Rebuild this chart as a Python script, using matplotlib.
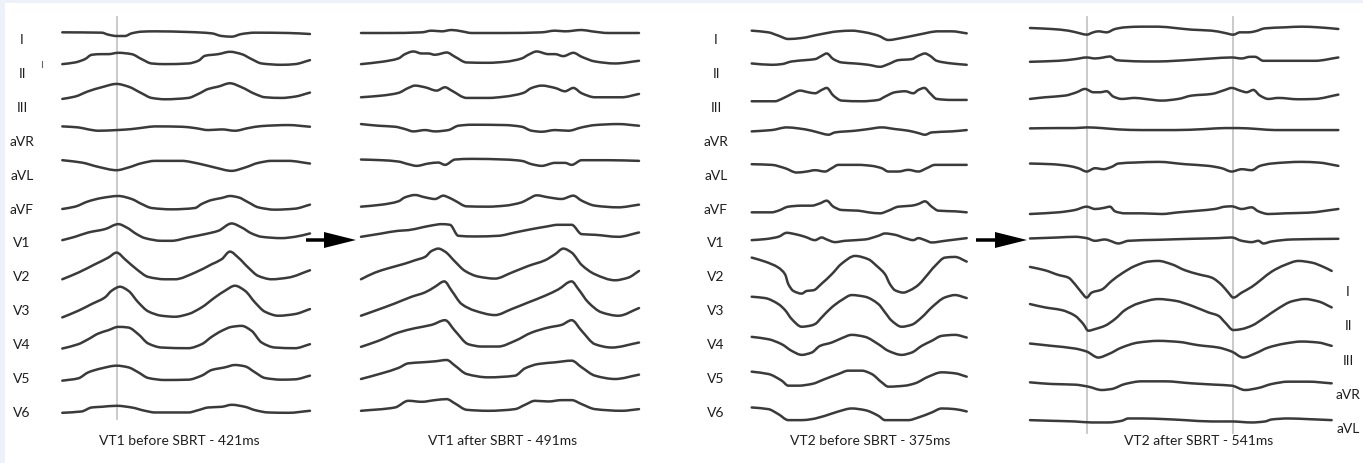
import numpy as np
import matplotlib
matplotlib.use("Agg")
import matplotlib.pyplot as plt
from matplotlib.patches import Rectangle, FancyArrow, PathPatch
from matplotlib.path import Path

# ---------------- data ----------------
LEADS = ["I", "II", "III", "aVR", "aVL", "aVF", "V1", "V2", "V3", "V4", "V5", "V6"]
RIGHT_LABELS = ["I", "II", "III", "aVR", "aVL"]
CAPTIONS = ["VT1 before SBRT - 421ms", "VT1 after SBRT - 491ms",
            "VT2 before SBRT - 375ms", "VT2 after SBRT - 541ms"]

# VT1 before SBRT (time index, amplitude per lead)
p1_t = [
    [0, 118, 138, 163, 188, 208, 238, 278, 378, 448, 478, 508, 538, 578, 678, 743],
    [0, 38, 68, 88, 118, 138, 168, 208, 238, 268, 308, 378, 408, 428, 468, 503, 538, 568, 598, 658, 698, 743],
    [0, 38, 78, 118, 163, 198, 238, 268, 308, 378, 408, 438, 468, 503, 538, 578, 608, 658, 698, 743],
    [0, 48, 78, 108, 163, 208, 248, 278, 358, 398, 438, 478, 518, 558, 598, 678, 743],
    [0, 58, 108, 163, 198, 238, 278, 358, 408, 458, 508, 548, 588, 628, 678, 743],
    [0, 38, 78, 118, 168, 208, 238, 268, 328, 398, 418, 448, 478, 503, 528, 558, 588, 638, 698, 743],
    [0, 38, 78, 128, 168, 193, 223, 248, 298, 328, 378, 428, 468, 508, 538, 568, 598, 658, 698, 743],
    [0, 48, 98, 138, 163, 188, 223, 258, 308, 338, 398, 448, 478, 503, 528, 558, 588, 628, 678, 743],
    [0, 48, 88, 128, 148, 173, 198, 228, 258, 298, 338, 378, 418, 458, 488, 518, 548, 578, 608, 648, 698, 743],
    [0, 48, 78, 108, 138, 168, 198, 228, 258, 298, 378, 418, 448, 478, 508, 538, 568, 598, 638, 698, 743],
    [0, 48, 78, 118, 163, 198, 228, 258, 308, 378, 418, 448, 488, 518, 548, 578, 608, 658, 698, 743],
    [0, 58, 88, 118, 163, 208, 248, 278, 378, 408, 438, 478, 508, 548, 578, 618, 678, 743],
]
p1_v = [
    [2, 1, -5, -9, -9, -1, 4, 5, 3, -1, -9, -11, -3, 1, 0, -3],
    [10, 15, 25, 38, 40, 40, 44, 40, 25, 12, 10, 12, 20, 35, 40, 47, 40, 25, 12, 8, 10, 22],
    [9, 16, 32, 44, 54, 46, 26, 12, 8, 12, 24, 39, 46, 56, 44, 24, 14, 12, 16, 28],
    [30, 27, 21, 17, 19, 22, 27, 30, 29, 25, 19, 21, 17, 25, 31, 34, 29],
    [32, 25, 12, 2, 10, 23, 30, 30, 22, 10, 0, 10, 24, 30, 30, 22],
    [-11, -4, 12, 22, 28, 19, 4, -8, -12, -8, 4, 16, 22, 28, 24, 9, -6, -13, -10, 2],
    [-1, 9, 22, 32, 47, 37, 17, 5, -3, -3, 7, 17, 27, 49, 37, 19, 9, 5, 9, 19],
    [-15, 5, 30, 50, 65, 45, 15, -8, -15, -15, 5, 30, 45, 68, 50, 20, -5, -15, -10, 12],
    [-26, -6, 14, 34, 54, 66, 54, 19, -8, -21, -24, -16, 4, 34, 54, 69, 54, 19, -9, -21, -16, -1],
    [-16, -3, 12, 29, 39, 49, 47, 27, -1, -13, -15, -3, 19, 37, 49, 52, 37, 2, -13, -15, -3],
    [-9, -2, 16, 28, 36, 31, 16, -1, -7, -6, 6, 23, 31, 38, 34, 16, -1, -6, -5, 6],
    [-2, 2, 14, 16, 19, 14, 4, -1, -1, 6, 14, 16, 22, 16, 6, -1, -2, 4],
]

# VT1 after SBRT
p2_t = [
    [0, 82, 182, 212, 242, 272, 302, 332, 432, 542, 582, 612, 662, 692, 742, 834],
    [0, 62, 112, 132, 157, 182, 202, 222, 242, 257, 282, 317, 382, 432, 482, 502, 527, 562, 582, 607, 637, 662, 702, 762, 834],
    [0, 62, 112, 142, 162, 192, 227, 252, 272, 317, 382, 432, 487, 512, 542, 582, 612, 637, 662, 702, 782, 834],
    [0, 52, 102, 132, 157, 192, 222, 262, 292, 332, 432, 482, 512, 542, 582, 622, 662, 702, 772, 834],
    [0, 62, 112, 142, 167, 202, 232, 252, 282, 332, 432, 482, 512, 542, 582, 612, 632, 662, 742, 834],
    [0, 62, 112, 132, 162, 192, 222, 247, 262, 282, 317, 382, 432, 482, 502, 527, 562, 602, 637, 662, 702, 772, 834],
    [0, 62, 112, 142, 182, 212, 242, 267, 292, 342, 412, 462, 512, 552, 592, 632, 662, 702, 772, 834],
    [0, 42, 82, 132, 162, 192, 212, 232, 252, 282, 312, 352, 402, 452, 502, 552, 582, 607, 632, 662, 702, 762, 802, 834],
    [0, 42, 102, 152, 192, 222, 250, 272, 302, 342, 402, 452, 502, 552, 592, 632, 652, 682, 722, 772, 834],
    [0, 52, 112, 162, 212, 252, 282, 322, 362, 412, 462, 512, 562, 602, 632, 662, 702, 752, 834],
    [0, 62, 112, 142, 182, 222, 257, 282, 317, 382, 462, 492, 532, 582, 632, 662, 702, 762, 834],
    [0, 102, 142, 182, 222, 257, 282, 317, 382, 462, 492, 522, 562, 602, 632, 662, 702, 782, 834],
]
p2_v = [
    [0, 0, 2, 7, 5, 9, 5, 0, 0, 2, 7, 5, 9, 5, 0, 0],
    [10, 17, 27, 40, 48, 42, 42, 38, 42, 45, 32, 15, 14, 17, 27, 38, 48, 40, 40, 34, 44, 32, 18, 12, 20],
    [14, 19, 27, 42, 49, 44, 34, 44, 34, 12, 12, 16, 27, 42, 49, 42, 32, 42, 26, 14, 14, 24],
    [37, 32, 29, 22, 15, 19, 15, 19, 32, 35, 34, 29, 17, 14, 19, 17, 27, 34, 37, 32],
    [34, 32, 28, 20, 15, 22, 25, 18, 34, 36, 34, 30, 20, 15, 24, 24, 18, 32, 32, 30],
    [-4, 2, 12, 24, 31, 24, 19, 29, 24, 14, -3, -4, -1, 9, 19, 30, 24, 19, 29, 14, -1, -6, 2],
    [9, 19, 27, 29, 37, 43, 47, 45, 12, 10, 12, 22, 32, 39, 45, 45, 17, 15, 9, 22],
    [-15, 5, 18, 32, 42, 52, 70, 77, 68, 38, 10, -7, -13, 5, 25, 42, 60, 77, 65, 28, 0, -18, -10, 10],
    [-21, -6, 16, 36, 49, 66, 82, 54, 14, -6, -19, -1, 19, 39, 58, 82, 59, 19, -11, -21, 2],
    [-11, 7, 32, 45, 55, 69, 37, -3, -10, -10, 7, 32, 47, 55, 69, 37, -3, -13, 2],
    [-4, 13, 29, 43, 46, 49, 53, 36, 11, 1, 6, 28, 41, 46, 51, 31, 6, -4, 9],
    [4, 14, 34, 31, 36, 39, 26, 7, 4, 9, 22, 34, 32, 36, 36, 24, 9, 4, 9],
]

# VT2 before SBRT
p3_t = [
    [0, 50, 80, 110, 150, 200, 260, 300, 340, 380, 410, 450, 500, 560, 600, 645],
    [0, 60, 90, 120, 160, 190, 210, 225, 245, 270, 310, 350, 385, 410, 440, 480, 500, 520, 535, 555, 600, 645],
    [0, 70, 90, 120, 145, 170, 190, 210, 225, 245, 270, 330, 380, 400, 430, 460, 485, 500, 518, 535, 555, 600, 645],
    [0, 60, 105, 140, 180, 210, 230, 250, 310, 350, 390, 430, 470, 500, 520, 540, 600, 645],
    [0, 60, 100, 135, 165, 190, 220, 240, 260, 320, 360, 390, 410, 440, 470, 500, 525, 550, 600, 645],
    [0, 60, 80, 110, 150, 180, 205, 225, 245, 270, 320, 350, 385, 410, 440, 480, 500, 520, 540, 560, 610, 645],
    [0, 40, 80, 105, 130, 160, 190, 210, 225, 250, 280, 340, 380, 400, 430, 460, 485, 500, 520, 540, 580, 645],
    [0, 40, 80, 100, 110, 125, 150, 165, 185, 210, 240, 270, 310, 350, 375, 400, 415, 430, 455, 475, 500, 520, 550, 580, 610, 645],
    [0, 40, 80, 100, 120, 150, 175, 190, 210, 240, 270, 300, 340, 380, 400, 420, 450, 480, 510, 540, 580, 610, 645],
    [0, 50, 90, 120, 150, 180, 205, 240, 270, 300, 340, 380, 410, 450, 480, 510, 540, 570, 610, 645],
    [0, 50, 90, 110, 140, 180, 220, 260, 290, 330, 360, 390, 410, 460, 490, 530, 570, 610, 645],
    [0, 50, 80, 110, 150, 180, 220, 260, 300, 340, 380, 400, 440, 470, 500, 540, 570, 610, 645],
]
p3_v = [
    [7, 2, -8, -18, -15, -5, 5, 7, 2, -8, -21, -15, -5, 5, 5, -1],
    [12, 8, 10, 18, 22, 25, 35, 42, 25, 15, 12, 8, 2, 10, 22, 25, 35, 42, 35, 20, 12, 8],
    [2, 2, 9, 24, 34, 29, 26, 36, 42, 19, 4, 2, 6, 16, 29, 32, 26, 36, 42, 26, 9, 6, 6],
    [15, 19, 27, 24, 17, 9, 5, 12, 17, 22, 27, 22, 17, 10, 5, 12, 15, 19],
    [20, 18, 8, -5, -2, 2, -2, 8, 18, 18, 15, 8, -2, -2, 3, -2, 8, 18, 18, 18],
    [-21, -21, -16, -4, -1, -1, 6, 14, -4, -14, -16, -21, -24, -16, -4, -1, 4, 12, -4, -16, -18, -21],
    [-1, 2, 9, 21, 17, 9, -1, 7, 1, -7, -3, 1, 12, 19, 15, 5, -1, 5, -1, -8, -3, 5],
    [50, 38, 20, 0, -30, -50, -58, -50, -48, -28, 0, 32, 55, 45, 25, 0, -30, -48, -55, -48, -32, -10, 25, 50, 52, 38],
    [36, 32, 14, -4, -31, -54, -51, -46, -26, 4, 26, 41, 36, 14, -11, -36, -54, -48, -26, 4, 34, 41, 32],
    [19, 12, -3, -23, -35, -28, -8, 2, 15, 25, 19, -3, -23, -35, -28, -8, 7, 22, 25, 17],
    [18, 11, -9, -24, -24, -19, -4, 11, 21, 21, 11, -14, -27, -24, -17, 3, 16, 13, 3],
    [14, 9, -6, -24, -24, -21, -11, 2, 11, 6, -11, -24, -24, -24, -16, -1, 11, 9, 2],
]

# VT2 after SBRT
p4_t = [
    [0, 65, 115, 150, 170, 190, 205, 230, 255, 285, 335, 385, 435, 485, 545, 585, 610, 630, 655, 675, 705, 765, 815, 865, 925],
    [0, 85, 135, 170, 195, 220, 240, 260, 285, 345, 385, 435, 485, 545, 605, 635, 660, 675, 700, 730, 785, 855, 925],
    [0, 45, 105, 140, 165, 190, 210, 230, 250, 275, 315, 345, 395, 445, 485, 545, 585, 605, 630, 650, 670, 690, 715, 745, 805, 855, 925],
    [0, 85, 135, 170, 215, 265, 335, 435, 525, 585, 625, 685, 735, 835, 925],
    [0, 65, 115, 145, 170, 195, 220, 245, 265, 315, 385, 465, 535, 575, 605, 635, 665, 690, 725, 815, 865, 925],
    [0, 85, 135, 170, 195, 220, 240, 255, 285, 335, 395, 445, 505, 555, 585, 605, 635, 665, 685, 715, 765, 835, 925],
    [0, 85, 135, 170, 195, 225, 240, 265, 295, 385, 485, 565, 605, 635, 665, 685, 700, 725, 785, 925],
    [0, 45, 85, 115, 135, 155, 170, 185, 215, 245, 275, 315, 355, 385, 425, 465, 505, 545, 575, 595, 610, 635, 665, 695, 725, 765, 805, 845, 885, 905],
    [0, 45, 95, 135, 160, 175, 195, 225, 255, 285, 325, 385, 435, 485, 535, 565, 585, 610, 635, 665, 705, 745, 785, 825, 865, 905],
    [0, 65, 135, 170, 205, 235, 275, 325, 385, 445, 505, 565, 605, 640, 675, 715, 765, 815, 865, 905],
    [0, 65, 135, 175, 215, 245, 285, 335, 405, 485, 555, 605, 645, 685, 725, 775, 835, 905],
    [0, 65, 135, 185, 235, 275, 295, 335, 405, 465, 545, 605, 665, 705, 725, 775, 835, 905],
]
p4_v = [
    [15, 12, 7, -1, -5, 2, 5, 2, 12, 17, 19, 19, 15, 10, 7, 0, -5, 2, 2, 5, 14, 17, 19, 17, 12],
    [17, 20, 25, 30, 27, 30, 33, 22, 20, 18, 18, 20, 23, 27, 30, 27, 32, 32, 20, 20, 20, 20, 30],
    [9, 14, 19, 29, 39, 29, 29, 32, 16, 9, 12, 9, 4, 9, 19, 24, 36, 42, 34, 29, 36, 19, 9, 12, 8, 9, 22],
    [24, 25, 25, 27, 25, 21, 19, 19, 22, 25, 25, 22, 19, 19, 19],
    [22, 20, 15, 8, -2, 8, 5, 12, 22, 25, 27, 20, 15, 8, -2, 5, 2, 15, 22, 27, 25, 15],
    [-26, -21, -14, -4, -11, -8, -4, -18, -24, -24, -26, -21, -16, -11, -4, -3, -11, -6, -18, -26, -24, -22, -11],
    [4, 7, 9, 5, -3, 1, -3, -11, -3, 0, 3, 5, 7, -3, -7, -3, -11, -5, 1, 3],
    [22, 12, -2, -10, -30, -55, -70, -55, -46, -20, 2, 25, 38, 40, 30, 12, 0, -10, -32, -55, -70, -55, -38, -15, 8, 28, 40, 35, 20, 10],
    [14, 4, -4, -21, -46, -66, -61, -51, -31, -4, 16, 29, 24, 9, -11, -21, -41, -64, -61, -51, -26, 1, 22, 29, 22, 4],
    [-1, -8, -16, -25, -43, -33, -13, 2, 7, 4, -6, -13, -25, -43, -31, -13, -1, 5, 2, -8],
    [-14, -19, -21, -27, -37, -34, -19, -11, -11, -17, -21, -24, -37, -31, -19, -12, -12, -17],
    [-24, -26, -28, -31, -31, -26, -19, -19, -21, -24, -28, -28, -31, -28, -22, -19, -21, -24],
]

# time markers (vertical reference lines)
p1_markers = [163]
p4_markers = [172, 610]

# ---------------- layout ----------------
W, H = 1363, 464
FONT = ["Lato", "DejaVu Sans"]
TRACE = "#3a3a3a"
fig = plt.figure(figsize=(W / 100, H / 100), dpi=100, facecolor="#edf1f9")
bg = fig.add_axes([0, 0, 1, 1])
bg.set_xlim(0, W)
bg.set_ylim(H, 0)
bg.axis("off")
bg.add_patch(Rectangle((5, 4), W - 5, H - 4, facecolor="white", edgecolor="none"))

TOP, BOTTOM = 15, 435
SPACING = 103.4
YTOP = 57


def panel_axes(x0, tmax):
    w = tmax / 3.0
    ax = fig.add_axes([x0 / W, (H - BOTTOM) / H, w / W, (BOTTOM - TOP) / H])
    ax.set_xlim(0, tmax)
    ax.set_ylim(-(3 * (BOTTOM - TOP) - YTOP), YTOP)
    ax.axis("off")
    return ax


def smooth_path(t, y):
    """Monotone cubic (PCHIP-style) Bezier path through the read points."""
    x = np.asarray(t, float)
    y = np.asarray(y, float)
    h = np.diff(x)
    d = np.diff(y) / h
    n = len(x)
    m = np.zeros(n)
    for k in range(1, n - 1):
        if d[k - 1] * d[k] > 0:
            w1 = 2 * h[k] + h[k - 1]
            w2 = h[k] + 2 * h[k - 1]
            m[k] = (w1 + w2) / (w1 / d[k - 1] + w2 / d[k])
    m[0], m[-1] = d[0], d[-1]
    verts = [(x[0], y[0])]
    codes = [Path.MOVETO]
    for k in range(n - 1):
        dx = h[k] / 3.0
        verts += [(x[k] + dx, y[k] + m[k] * dx),
                  (x[k + 1] - dx, y[k + 1] - m[k + 1] * dx),
                  (x[k + 1], y[k + 1])]
        codes += [Path.CURVE4] * 3
    return Path(verts, codes)


panels = [
    (62.3, p1_t, p1_v, p1_markers, (420, 18)),
    (361.0, p2_t, p2_v, [], None),
    (751.7, p3_t, p3_v, [], None),
    (1030.0, p4_t, p4_v, p4_markers, (434, 18)),
]

for x0, ts, vs, markers, span in panels:
    tmax = max(t[-1] for t in ts)
    ax = panel_axes(x0, tmax)
    if markers:
        ymin = (BOTTOM - span[0]) / (BOTTOM - TOP)
        ymax = (BOTTOM - span[1]) / (BOTTOM - TOP)
        for mk in markers:
            ax.axvline(mk, ymin=ymin, ymax=ymax, color="#c6c6c6", lw=1.3, zorder=0)
    for i, (t, v) in enumerate(zip(ts, vs)):
        assert len(t) == len(v)
        path = smooth_path(t, np.asarray(v) - i * SPACING)
        ax.add_patch(PathPatch(path, facecolor="none", edgecolor=TRACE, lw=1.8,
                               capstyle="round", joinstyle="round", clip_on=False))

# lead labels
for y, lab in zip(np.linspace(40, 413, 12), LEADS):
    bg.text(22, y, lab, ha="center", va="center", fontsize=10, family=FONT, color="#1e1e1e")
    bg.text(716, y, lab, ha="center", va="center", fontsize=10, family=FONT, color="#1e1e1e")
for i, lab in enumerate(RIGHT_LABELS):
    bg.text(1348, 292 + 34.3 * i, lab, ha="center", va="center", fontsize=10, family=FONT, color="#1e1e1e")

# captions
for cx, cap in zip([179, 503, 870, 1199], CAPTIONS):
    bg.text(cx, 441, cap, ha="center", va="center", fontsize=10, family=FONT, color="#1e1e1e")

# arrows
for xa, length in [(306, 50), (976, 51)]:
    bg.add_patch(FancyArrow(xa, 241, length, 0, width=3.5, head_width=16, head_length=32,
                            length_includes_head=True, color="black", lw=0))

# small stray mark
bg.plot([41.5, 41.5], [62, 68], color="#666666", lw=0.8)

fig.savefig("out.png", dpi=100, facecolor=fig.get_facecolor())
